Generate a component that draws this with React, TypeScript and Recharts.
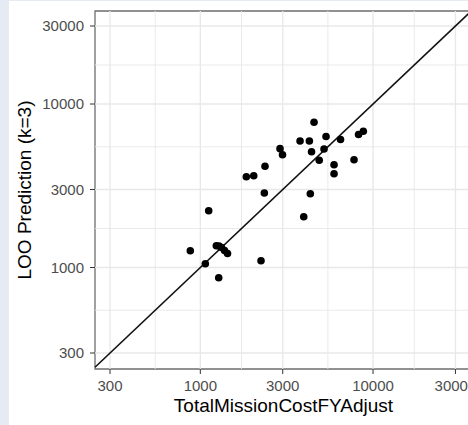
import React from 'react';
import {
  ScatterChart,
  Scatter,
  XAxis,
  YAxis,
  ReferenceLine,
  ReferenceArea,
} from 'recharts';

// Actual mission cost (x) vs leave-one-out prediction (y)
const actualCost = [
  4554, 3780, 4279, 5344, 6483, 8242, 8787, 2894, 2992, 4405, 5203, 4881,
  5946, 5946, 7762, 2369, 1847, 2038, 2348, 4334, 3970, 1118, 875, 1238,
  1283, 1327, 1381, 1437, 1069, 2246, 1278,
];
const looPrediction = [
  7728, 5940, 5940, 6330, 6066, 6511, 6809, 5332, 4896, 5103, 5307, 4533,
  4254, 3742, 4558, 4160, 3591, 3644, 2856, 2828, 2046, 2226, 1267, 1360,
  1354, 1325, 1271, 1218, 1055, 1100, 866,
];

const majorTicks = [300, 1000, 3000, 10000, 30000];
const minorBreaks = [548, 1732, 5477, 17321];
const xDomain = [245.6, 37760];
const yDomain = [239.5, 37050];
const identityEnds = [245.6, 37050];

const xTitle = 'TotalMissionCostFYAdjust';
const yTitle = 'LOO Prediction (k=3)';

const points = actualCost.map((x, i) => ({ x, y: looPrediction[i] }));
const FONT = "'Liberation Sans', Arial, Helvetica, sans-serif";

const XTitle = () => (
  <text x={283.5} y={412} textAnchor="middle" fontSize={19} fontFamily={FONT} fill="#000">
    {xTitle}
  </text>
);
const YTitle = () => (
  <text
    x={31}
    y={190}
    textAnchor="middle"
    fontSize={19}
    fontFamily={FONT}
    fill="#000"
    transform="rotate(-90, 31, 190)"
  >
    {yTitle}
  </text>
);

export default function App() {
  const gridVals = [...majorTicks, ...minorBreaks];
  return (
    <div
      style={{
        position: 'fixed',
        left: 0,
        top: 0,
        width: 468,
        height: 425,
        background: '#e6ebf3',
        overflow: 'hidden',
      }}
    >
      <div
        style={{ position: 'absolute', left: 9, top: 1, width: 470, height: 430, background: '#ffffff' }}
      />
      <div style={{ position: 'absolute', left: 0, top: 0 }}>
        <ScatterChart
          width={480}
          height={425}
          margin={{ top: 11, right: 7.3, bottom: 0, left: 15 }}
        >
          <XAxis
            type="number"
            dataKey="x"
            scale="log"
            domain={xDomain}
            allowDataOverflow
            ticks={majorTicks}
            interval={0}
            height={56}
            axisLine={false}
            tickSize={5}
            tickMargin={6}
            tickLine={{ stroke: '#333333' }}
            tick={{ fill: '#4d4d4d', fontSize: 15, fontFamily: FONT }}
            label={<XTitle />}
          />
          <YAxis
            type="number"
            dataKey="y"
            scale="log"
            domain={yDomain}
            allowDataOverflow
            ticks={majorTicks}
            interval={0}
            width={80}
            axisLine={false}
            tickSize={5}
            tickMargin={6}
            tickLine={{ stroke: '#333333' }}
            tick={{ fill: '#4d4d4d', fontSize: 15, fontFamily: FONT }}
            label={<YTitle />}
          />
          {gridVals.map((v) => (
            <ReferenceLine
              key={'gx' + v}
              x={v}
              stroke="#e8e8e8"
              strokeWidth={majorTicks.includes(v) ? 1.3 : 0.9}
            />
          ))}
          {gridVals.map((v) => (
            <ReferenceLine
              key={'gy' + v}
              y={v}
              stroke="#e8e8e8"
              strokeWidth={majorTicks.includes(v) ? 1.3 : 0.9}
            />
          ))}
          <ReferenceArea
            x1={xDomain[0]}
            x2={xDomain[1]}
            y1={yDomain[0]}
            y2={yDomain[1]}
            fill="none"
            stroke="#6e6e6e"
            strokeWidth={1.3}
          />
          <ReferenceLine
            segment={[
              { x: identityEnds[0], y: identityEnds[0] },
              { x: identityEnds[1], y: identityEnds[1] },
            ]}
            stroke="#111111"
            strokeWidth={1.6}
          />
          <Scatter
            data={points}
            fill="#000000"
            isAnimationActive={false}
            shape={(p: any) => <circle cx={p.cx} cy={p.cy} r={3.8} fill="#000" />}
          />
        </ScatterChart>
      </div>
    </div>
  );
}
